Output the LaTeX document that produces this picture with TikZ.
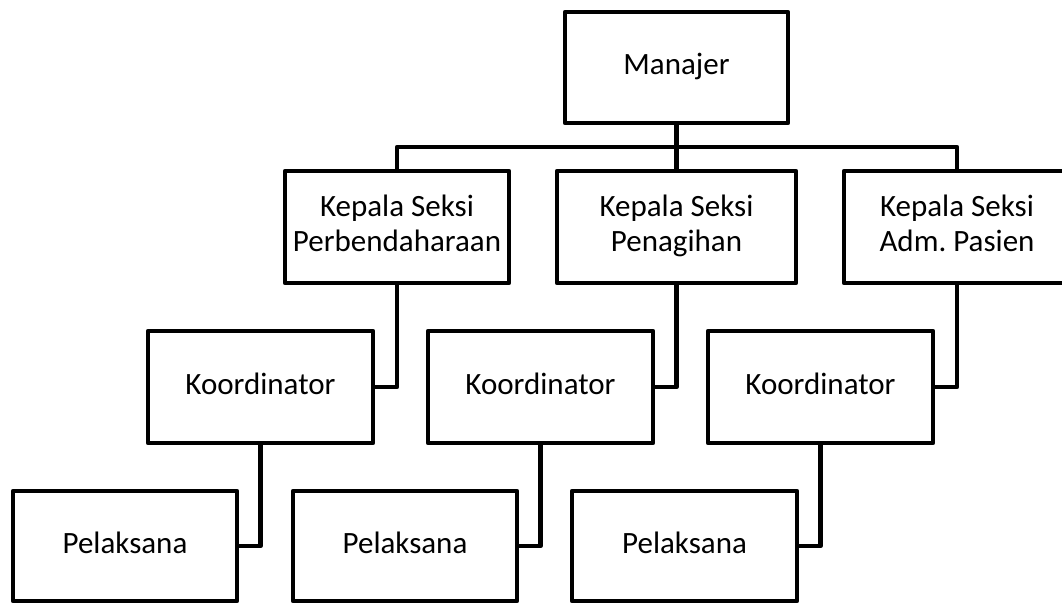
\documentclass[tikz,border=0pt]{standalone}
\usepackage{fontspec}
\setmainfont{Carlito}
\frenchspacing
\begin{document}
\begin{tikzpicture}[x=1pt,y=-1pt,
  box/.style={draw=black, line width=4.5pt, line join=round, fill=white, inner sep=0pt,
    align=center, font=\fontsize{31}{35}\selectfont, minimum height=112pt},
  conn/.style={draw=black, line width=4.5pt, line join=round}]
\clip (0,0) rectangle (1062,603);
\useasboundingbox (0,0) rectangle (1062,603);
\node[box, minimum width=223pt, minimum height=111pt] (man) at (676.5,67.5) {\strut Manajer};
\node[box, minimum width=224pt] (k1) at (397,227) {\strut Kepala Seksi\\\strut Perbendaharaan};
\node[box, minimum width=239pt] (k2) at (676.5,227) {\strut Kepala Seksi\\\strut Penagihan};
\node[box, minimum width=226pt] (k3) at (957,227) {\strut Kepala Seksi\\\strut Adm.\ Pasien};
\node[box, minimum width=225pt] (c1) at (260.5,387) {\strut Koordinator};
\node[box, minimum width=225pt] (c2) at (540.5,387) {\strut Koordinator};
\node[box, minimum width=225pt] (c3) at (820.5,387) {\strut Koordinator};
\node[box, minimum width=224pt, minimum height=110pt] (p1) at (125,546) {\strut Pelaksana};
\node[box, minimum width=224pt, minimum height=110pt] (p2) at (405,546) {\strut Pelaksana};
\node[box, minimum width=225pt, minimum height=110pt] (p3) at (684.5,546) {\strut Pelaksana};
\coordinate (bus) at (0,147);
\draw[conn] (man.south) -- (man.south |- bus);
\draw[conn] (k1.north) -- (k1.north |- bus) -- (k3.north |- bus) -- (k3.north);
\draw[conn] (man.south |- bus) -- (k2.north);
\draw[conn] (k1.south) |- (c1.east);
\draw[conn] (k2.south) |- (c2.east);
\draw[conn] (k3.south) |- (c3.east);
\draw[conn] (c1.south) |- (p1.east);
\draw[conn] (c2.south) |- (p2.east);
\draw[conn] (c3.south) |- (p3.east);
\end{tikzpicture}
\end{document}
